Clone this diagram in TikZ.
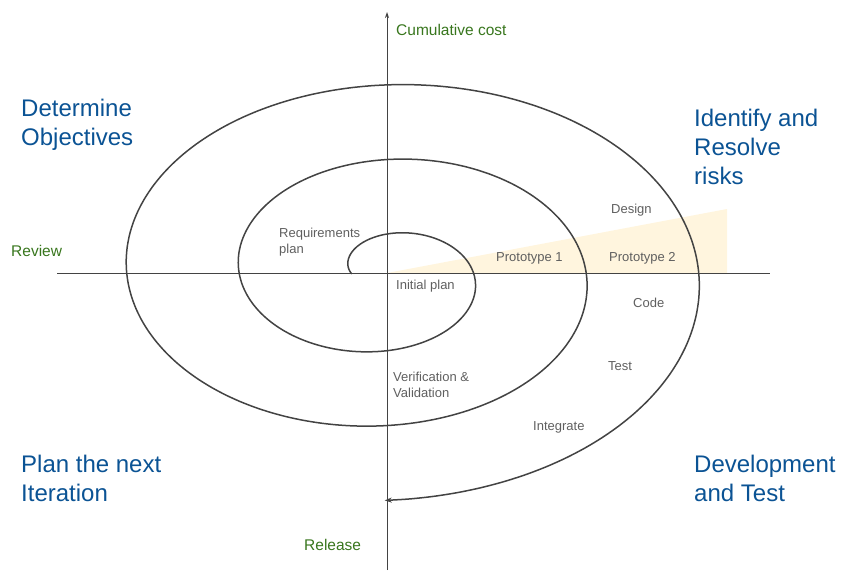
\documentclass[tikz,border=0pt]{standalone}
\usepackage{fontspec}
\setmainfont{Liberation Sans}
\usetikzlibrary{arrows.meta}
\definecolor{phaseblue}{RGB}{11,83,148}
\definecolor{axisgreen}{RGB}{56,118,29}
\definecolor{taskgray}{RGB}{95,95,95}
\definecolor{linegray}{RGB}{67,67,67}
\definecolor{protofill}{RGB}{255,245,222}

\begin{document}
\begin{tikzpicture}[
    x=1pt, y=-1pt,
    phase/.style={anchor=west, align=left, inner sep=0pt, text=phaseblue, font=\fontsize{24}{29.2}\selectfont},
    axislabel/.style={anchor=west, inner sep=0pt, text=axisgreen, font=\fontsize{15.5}{18}\selectfont},
    task/.style={anchor=west, align=left, inner sep=0pt, text=taskgray, font=\fontsize{13}{15.7}\selectfont},
    axis/.style={draw=linegray, line width=0.9pt},
    spiral/.style={draw=linegray, line width=1.5pt},
]
    \useasboundingbox (0,0) rectangle (854,582);

    % prototype wedge
    \coordinate (origin) at (387,273);
    \coordinate (wedgetop) at (727,209);
    \coordinate (wedgebot) at (727,273);
    \fill[protofill] (origin) -- (wedgetop) -- (wedgebot) -- cycle;

    % axes
    \coordinate (xleft) at (57,273);
    \coordinate (xright) at (770,273);
    \coordinate (ybottom) at (387,570);
    \coordinate (ytop) at (387,12);
    \draw[axis] (xleft) -- (xright);
    \draw[axis, -{Stealth[length=6pt, width=4pt]}] (ybottom) -- (ytop);

    % spiral
    \draw[spiral, -{Stealth[length=7pt, width=5pt]}]
        plot[domain=0:990, samples=240, smooth, variable=\t]
        ({384.7-(32.9+0.3125*\t)*cos(\t)}, {274-(20.9+0.2076*\t)*sin(\t)});

    % axis labels
    \node[axislabel] (cost) at (396,30) {Cumulative cost};
    \node[axislabel] (review) at (11,251) {Review};
    \node[axislabel] (release) at (304,545) {Release};

    % quadrants
    \node[phase] (objectives) at (21,124.5) {Determine\\Objectives};
    \node[phase] (risks) at (694,147) {Identify and\\Resolve\\risks};
    \node[phase] (nextiter) at (21,478.5) {Plan the next\\Iteration};
    \node[phase] (devtest) at (694,478.5) {Development\\and Test};

    % steps on the spiral
    \node[task] (reqplan) at (279,242) {Requirements\\plan};
    \node[task] (initplan) at (396,286) {Initial plan};
    \node[task] (proto1) at (496,258) {Prototype 1};
    \node[task] (proto2) at (609,258) {Prototype 2};
    \node[task] (design) at (611,210) {Design};
    \node[task] (code) at (633,303) {Code};
    \node[task] (test) at (608,366) {Test};
    \node[task] (verval) at (393,385) {Verification \&\\Validation};
    \node[task] (integrate) at (533,427) {Integrate};

\end{tikzpicture}
\end{document}
